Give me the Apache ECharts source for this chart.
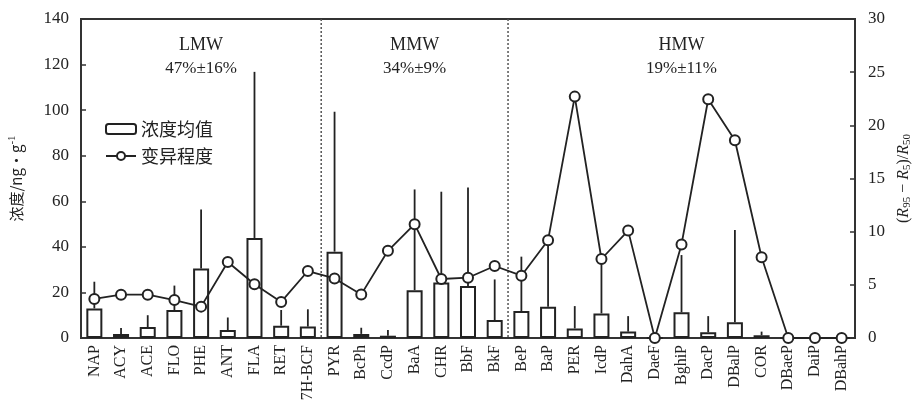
<!DOCTYPE html>
<html><head><meta charset="utf-8">
<script src="https://cdn.jsdelivr.net/npm/echarts@6/dist/echarts.min.js"></script>
<style>html,body{margin:0;padding:0;background:#fff}#c{width:912px;height:411px}</style>
</head><body><div id="c"></div>
<script>
const categories = ['NAP','ACY','ACE','FLO','PHE','ANT','FLA','RET','7H-BCF','PYR','BcPh','CcdP','BaA','CHR','BbF','BkF','BeP','BaP','PER','IcdP','DahA','DaeF','BghiP','DacP','DBalP','COR','DBaeP','DaiP','DBahP'];
const meanConc = [13,1.8,4.8,12.3,30.5,3.5,43.9,5.4,5,37.9,1.8,1.0,21,24.4,22.8,7.9,11.8,13.7,4.2,10.8,2.8,0,11.3,2.5,6.9,1.2,0,0,0];
const upperConc = [24.7,4.4,10,23,56.4,9,116.8,12.3,12.6,99.3,4.5,3.5,65.2,64.2,66.1,25.7,35.7,43,14,35,9.6,0,36.4,9.6,47.4,2.8,0,0,0];
const variability = [3.67,4.07,4.07,3.57,2.95,7.15,5.05,3.39,6.3,5.6,4.1,8.2,10.7,5.55,5.67,6.77,5.86,9.2,22.7,7.43,10.1,0,8.8,22.45,18.6,7.6,0,0,0];
const groups = [
  {name:'LMW', pct:'47%±16%', from:0, to:8},
  {name:'MMW', pct:'34%±9%', from:9, to:15},
  {name:'HMW', pct:'19%±11%', from:16, to:28}
];
const leftTicks = {min:0, max:140, interval:20};
const rightTicks = {min:0, max:30, interval:5};

const serif = 'Liberation Serif, Times New Roman, serif';
const cjk = 'Noto Sans CJK SC';
const ink = '#222';
const chart = echarts.init(document.getElementById('c'));
const errData = categories.map((c,i)=>[i, meanConc[i], upperConc[i]]);

chart.setOption({
  animation:false,
  grid:{left:81,right:57,top:19,bottom:73,outerBoundsMode:'none',containLabel:false,show:true,borderColor:'#333',borderWidth:2,backgroundColor:'transparent'},
  legend:{
    orient:'vertical', left:100, top:115, itemWidth:30, itemHeight:10, itemGap:9,
    textStyle:{fontFamily:cjk, fontSize:18, color:ink},
    data:['浓度均值','变异程度']
  },
  xAxis:{
    type:'category', data:categories,
    axisLine:{lineStyle:{color:'#333',width:2}},
    axisTick:{show:false},
    axisLabel:{rotate:90, fontFamily:serif, fontSize:16, color:ink, margin:7, interval:0}
  },
  yAxis:[{
    type:'value', min:leftTicks.min, max:leftTicks.max, interval:leftTicks.interval,
    position:'left',
    axisLine:{show:true,lineStyle:{color:'#333',width:2}},
    axisTick:{show:true,inside:true,length:5,lineStyle:{color:'#333',width:1.5}},
    splitLine:{show:false},
    axisLabel:{fontFamily:serif,fontSize:17,color:ink,margin:12},
    name:'{a|浓度/ng·g}{s|-1}', nameLocation:'middle', nameGap:55, nameRotate:90,
    nameTextStyle:{rich:{a:{fontFamily:cjk,fontSize:15,color:ink},s:{fontFamily:serif,fontSize:11,color:ink,verticalAlign:'top',padding:[0,0,8,0]}}}
  },{
    type:'value', min:rightTicks.min, max:rightTicks.max, interval:rightTicks.interval,
    position:'right',
    axisLine:{show:true,lineStyle:{color:'#333',width:2}},
    axisTick:{show:true,inside:true,length:5,lineStyle:{color:'#333',width:1.5}},
    splitLine:{show:false},
    axisLabel:{fontFamily:serif,fontSize:17,color:ink,margin:13},
    name:'({i|R}{s|95}{n| − }{i|R}{s|5}{n|)/}{i|R}{s|50}', nameLocation:'middle', nameGap:33, nameRotate:90,
    nameTextStyle:{rich:{
      n:{fontFamily:serif,fontSize:16,color:ink},
      i:{fontFamily:serif,fontSize:16,fontStyle:'italic',color:ink},
      s:{fontFamily:serif,fontSize:11,color:ink,padding:[6,0,0,0]}
    },fontFamily:serif,fontSize:16,color:ink}
  }],
  series:[{
    name:'浓度均值', type:'bar', data:meanConc, barWidth:'60%', yAxisIndex:0,
    itemStyle:{color:'#fff',borderColor:ink,borderWidth:2}, z:2
  },{
    name:'err', type:'custom', yAxisIndex:0, data:errData, z:3,
    renderItem:function(params, api){
      const lo = api.coord([api.value(0), api.value(1)]);
      const hi = api.coord([api.value(0), api.value(2)]);
      if (api.value(2) <= api.value(1)) return;
      return {type:'line', shape:{x1:lo[0],y1:lo[1],x2:hi[0],y2:hi[1]}, style:{stroke:ink,lineWidth:1.8}};
    }
  },{
    name:'变异程度', type:'line', data:variability, yAxisIndex:1,
    symbol:'emptyCircle', symbolSize:10, color:ink,
    lineStyle:{color:ink,width:1.8}, itemStyle:{color:ink,borderColor:ink,borderWidth:1.8}, z:5
  }]
});

function drawOverlays(){
  const top = 19, bottom = 411-73;
  const els = [];
  [groups[0].to, groups[1].to].forEach(idx=>{
    const a = chart.convertToPixel({xAxisIndex:0}, idx);
    const b = chart.convertToPixel({xAxisIndex:0}, idx+1);
    const x = (a+b)/2;
    els.push({type:'line', shape:{x1:x,y1:top,x2:x,y2:bottom}, style:{stroke:'#555',lineWidth:1.5,lineDash:[2,2]}, z:1});
  });
  groups.forEach(g=>{
    const a = chart.convertToPixel({xAxisIndex:0}, g.from);
    const b = chart.convertToPixel({xAxisIndex:0}, g.to);
    const cx = (a+b)/2;
    els.push({type:'text', x:cx, y:45, style:{text:g.name, fontFamily:serif, fontSize:18, fill:ink, align:'center', verticalAlign:'middle'}, z:10});
    els.push({type:'text', x:cx, y:69, style:{text:g.pct, fontFamily:serif, fontSize:17, fill:ink, align:'center', verticalAlign:'middle'}, z:10});
  });
  chart.setOption({graphic:{elements:els}});
}
drawOverlays();
</script></body></html>
